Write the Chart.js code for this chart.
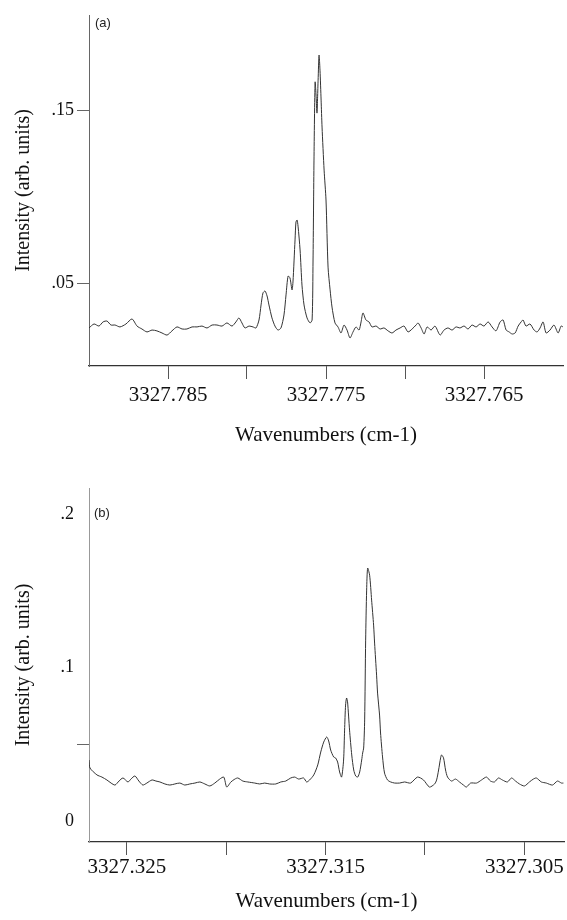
<!DOCTYPE html>
<html>
<head>
<meta charset="utf-8">
<script src="https://cdn.jsdelivr.net/npm/chart.js@4.4.1/dist/chart.umd.min.js"></script>
<style>
  body { margin: 0; background: #fff; }
  #wrap { position: relative; width: 567px; height: 920px; }
  canvas { position: absolute; left: 0; }
  .tag { position: absolute; font: 13px "Liberation Sans", Arial, sans-serif; color: #222; line-height: 16px; }
</style>
</head>
<body>
<div id="wrap">
  <canvas id="specA" width="567" height="460" style="top:0"></canvas>
  <canvas id="specB" width="567" height="460" style="top:460px"></canvas>
  <div class="tag" style="left:95px; top:15px">(a)</div>
  <div class="tag" style="left:94px; top:505px">(b)</div>
</div>
<script>
// panel (a): wavenumber (cm-1) and intensity
const WAVE_A = [
  3327.79000, 3327.78968, 3327.78937, 3327.78911, 3327.78886, 3327.78861, 3327.78835, 3327.78804, 3327.78766, 3327.78728,
  3327.78696, 3327.78665, 3327.78633, 3327.78601, 3327.78570, 3327.78538, 3327.78506, 3327.78475, 3327.78443, 3327.78411,
  3327.78380, 3327.78348, 3327.78316, 3327.78285, 3327.78253, 3327.78221, 3327.78190, 3327.78158, 3327.78127, 3327.78095,
  3327.78070, 3327.78051, 3327.78032, 3327.78013, 3327.77987, 3327.77962, 3327.77943, 3327.77924, 3327.77911, 3327.77899,
  3327.77886, 3327.77873, 3327.77861, 3327.77842, 3327.77823, 3327.77804, 3327.77785, 3327.77766, 3327.77753, 3327.77740,
  3327.77728, 3327.77715, 3327.77709, 3327.77696, 3327.77690, 3327.77683, 3327.77677, 3327.77664, 3327.77652, 3327.77639,
  3327.77620, 3327.77601, 3327.77588, 3327.77582, 3327.77576, 3327.77569, 3327.77563, 3327.77557, 3327.77550, 3327.77544,
  3327.77538, 3327.77531, 3327.77525, 3327.77512, 3327.77500, 3327.77487, 3327.77474, 3327.77462, 3327.77443, 3327.77424,
  3327.77405, 3327.77386, 3327.77367, 3327.77348, 3327.77329, 3327.77310, 3327.77291, 3327.77278, 3327.77266, 3327.77247,
  3327.77228, 3327.77209, 3327.77183, 3327.77158, 3327.77133, 3327.77107, 3327.77082, 3327.77057, 3327.77031, 3327.77006,
  3327.76981, 3327.76955, 3327.76930, 3327.76917, 3327.76898, 3327.76879, 3327.76860, 3327.76835, 3327.76810, 3327.76778,
  3327.76753, 3327.76728, 3327.76702, 3327.76677, 3327.76652, 3327.76626, 3327.76601, 3327.76576, 3327.76550, 3327.76525,
  3327.76500, 3327.76474, 3327.76449, 3327.76424, 3327.76398, 3327.76379, 3327.76360, 3327.76341, 3327.76322, 3327.76303,
  3327.76284, 3327.76265, 3327.76253, 3327.76234, 3327.76209, 3327.76183, 3327.76164, 3327.76145, 3327.76126, 3327.76107,
  3327.76082, 3327.76057, 3327.76031, 3327.76012, 3327.76000
];
const INT_A = [
  .0240, .0263, .0251, .0275, .0280, .0257, .0257, .0246, .0263, .0292,
  .0251, .0234, .0217, .0228, .0223, .0211, .0199, .0223, .0246, .0234,
  .0234, .0246, .0246, .0251, .0240, .0257, .0257, .0251, .0269, .0251,
  .0275, .0298, .0269, .0240, .0251, .0246, .0240, .0286, .0373, .0442,
  .0454, .0425, .0373, .0298, .0251, .0228, .0240, .0315, .0431, .0540,
  .0529, .0460, .0506, .0749, .0853, .0864, .0829, .0691, .0488, .0373,
  .0298, .0269, .0286, .0633, .1211, .1662, .1587, .1483, .1673, .1818,
  .1731, .1558, .1402, .1153, .0980, .0592, .0460, .0361, .0269, .0246,
  .0211, .0257, .0228, .0182, .0217, .0246, .0228, .0275, .0327, .0286,
  .0275, .0246, .0251, .0234, .0240, .0223, .0211, .0228, .0240, .0251,
  .0217, .0234, .0257, .0269, .0240, .0205, .0246, .0228, .0251, .0199,
  .0228, .0240, .0228, .0246, .0240, .0251, .0234, .0257, .0246, .0263,
  .0251, .0275, .0246, .0223, .0275, .0286, .0228, .0217, .0205, .0211,
  .0251, .0275, .0286, .0251, .0263, .0228, .0217, .0240, .0275, .0211,
  .0228, .0257, .0211, .0251, .0246
];

// panel (b)
const WAVE_B = [
  3327.32690, 3327.32685, 3327.32650, 3327.32625, 3327.32600, 3327.32579, 3327.32559, 3327.32539, 3327.32519, 3327.32494,
  3327.32479, 3327.32459, 3327.32439, 3327.32419, 3327.32399, 3327.32373, 3327.32353, 3327.32333, 3327.32308, 3327.32283,
  3327.32258, 3327.32233, 3327.32208, 3327.32183, 3327.32157, 3327.32132, 3327.32107, 3327.32082, 3327.32057, 3327.32032,
  3327.32012, 3327.31997, 3327.31976, 3327.31956, 3327.31941, 3327.31916, 3327.31891, 3327.31856, 3327.31831, 3327.31806,
  3327.31781, 3327.31750, 3327.31725, 3327.31700, 3327.31675, 3327.31655, 3327.31635, 3327.31610, 3327.31595, 3327.31580,
  3327.31559, 3327.31539, 3327.31524, 3327.31509, 3327.31494, 3327.31484, 3327.31474, 3327.31459, 3327.31449, 3327.31439,
  3327.31429, 3327.31419, 3327.31409, 3327.31404, 3327.31399, 3327.31394, 3327.31389, 3327.31379, 3327.31368, 3327.31358,
  3327.31348, 3327.31338, 3327.31328, 3327.31318, 3327.31313, 3327.31308, 3327.31303, 3327.31298, 3327.31293, 3327.31288,
  3327.31278, 3327.31268, 3327.31258, 3327.31253, 3327.31243, 3327.31238, 3327.31228, 3327.31223, 3327.31213, 3327.31203,
  3327.31188, 3327.31172, 3327.31152, 3327.31127, 3327.31102, 3327.31072, 3327.31037, 3327.31007, 3327.30977, 3327.30951,
  3327.30941, 3327.30931, 3327.30921, 3327.30916, 3327.30906, 3327.30896, 3327.30886, 3327.30866, 3327.30846, 3327.30826,
  3327.30806, 3327.30791, 3327.30770, 3327.30740, 3327.30715, 3327.30690, 3327.30670, 3327.30650, 3327.30630, 3327.30610,
  3327.30585, 3327.30564, 3327.30544, 3327.30524, 3327.30499, 3327.30474, 3327.30454, 3327.30439, 3327.30414, 3327.30389,
  3327.30358, 3327.30333, 3327.30313, 3327.30303
];
const INT_B = [
  .0397, .0345, .0300, .0286, .0267, .0247, .0234, .0260, .0280, .0254,
  .0273, .0293, .0260, .0234, .0247, .0267, .0260, .0254, .0241, .0234,
  .0241, .0247, .0234, .0241, .0247, .0254, .0241, .0228, .0247, .0273,
  .0286, .0221, .0254, .0273, .0280, .0260, .0254, .0247, .0241, .0247,
  .0241, .0241, .0254, .0260, .0280, .0286, .0273, .0280, .0254, .0267,
  .0300, .0365, .0449, .0514, .0547, .0521, .0462, .0417, .0410, .0384,
  .0319, .0286, .0397, .0592, .0755, .0801, .0775, .0592, .0430, .0332,
  .0293, .0286, .0319, .0397, .0443, .0475, .0658, .1178, .1504, .1647,
  .1601, .1439, .1276, .1159, .0950, .0833, .0690, .0573, .0417, .0312,
  .0267, .0254, .0247, .0247, .0254, .0247, .0286, .0267, .0221, .0241,
  .0267, .0332, .0410, .0430, .0410, .0332, .0286, .0260, .0273, .0254,
  .0234, .0221, .0247, .0247, .0267, .0286, .0260, .0254, .0280, .0267,
  .0254, .0280, .0260, .0241, .0228, .0254, .0273, .0280, .0254, .0247,
  .0234, .0260, .0247, .0247
];

const X_TICKS_A = [3327.785, 3327.780, 3327.775, 3327.770, 3327.765];
const X_LABELS_A = ['3327.785', '', '3327.775', '', '3327.765'];
const Y_TICKS_A = [0.05, 0.15];
const Y_LABELS_A = ['.05', '.15'];
const Y_MARKS_A = [true, true];

const X_TICKS_B = [3327.325, 3327.320, 3327.315, 3327.310, 3327.305];
const X_LABELS_B = ['3327.325', '', '3327.315', '', '3327.305'];
const Y_TICKS_B = [0, 0.05, 0.1, 0.2];
const Y_LABELS_B = ['0', '', '.1', '.2'];
const Y_MARKS_B = [false, true, false, false];

const serif = '"Liberation Serif", "Times New Roman", serif';

function dibujar(id, xs, ys, cfg) {
  const puntos = xs.map((x, i) => ({ x: x, y: ys[i] }));
  return new Chart(document.getElementById(id), {
    type: 'line',
    data: {
      datasets: [{
        data: puntos,
        borderColor: '#333',
        borderWidth: 1,
        pointRadius: 0,
        tension: 0.25,
        fill: false
      }]
    },
    options: {
      responsive: false,
      animation: false,
      devicePixelRatio: 1,
      layout: { padding: { top: cfg.top, right: cfg.right, left: 0, bottom: 0 } },
      plugins: { legend: { display: false }, tooltip: { enabled: false } },
      scales: {
        x: {
          type: 'linear',
          reverse: true,
          min: cfg.xMin,
          max: cfg.xMax,
          afterFit: s => { s.height = cfg.xHeight; },
          afterBuildTicks: s => { s.ticks = cfg.xTicks.map(v => ({ value: v })); },
          grid: { drawOnChartArea: false, tickLength: 13, tickColor: '#555' },
          border: { color: '#333', width: 1.2 },
          ticks: {
            padding: cfg.xTickPad,
            color: '#111',
            autoSkip: false,
            maxRotation: 0,
            font: { family: serif, size: 21 },
            callback: (v, i) => cfg.xLabels[i]
          },
          title: {
            display: true,
            text: 'Wavenumbers (cm-1)',
            color: '#111',
            font: { family: serif, size: 21 },
            padding: { top: 0, bottom: cfg.xTitlePad }
          }
        },
        y: {
          min: cfg.yMin,
          max: cfg.yMax,
          afterFit: s => { s.width = 89; },
          afterBuildTicks: s => { s.ticks = cfg.yTicks.map(v => ({ value: v })); },
          grid: {
            drawOnChartArea: false,
            tickLength: 12,
            tickColor: ctx => cfg.yMarks[ctx.index] ? '#666' : 'rgba(0,0,0,0)'
          },
          border: { color: cfg.yBorder, width: 1, dash: cfg.yDash },
          ticks: {
            padding: 3,
            color: '#111',
            font: { family: serif, size: 18 },
            callback: (v, i) => cfg.yLabels[i]
          },
          title: {
            display: true,
            text: 'Intensity (arb. units)',
            color: '#111',
            font: { family: serif, size: 20 },
            padding: { top: 12, bottom: 0 }
          }
        }
      }
    }
  });
}

dibujar('specA', WAVE_A, INT_A, {
  top: 15, right: 4,
  xMin: 3327.760, xMax: 3327.790, yMin: 0.002, yMax: 0.205,
  xHeight: 94, xTickPad: 4, xTitlePad: 12,
  xTicks: X_TICKS_A, xLabels: X_LABELS_A,
  yTicks: Y_TICKS_A, yLabels: Y_LABELS_A, yMarks: Y_MARKS_A,
  yBorder: '#666', yDash: []
});

dibujar('specB', WAVE_B, INT_B, {
  top: 28, right: 3,
  xMin: 3327.303, xMax: 3327.3269, yMin: -0.0137, yMax: 0.2169,
  xHeight: 78, xTickPad: 0, xTitlePad: 6,
  xTicks: X_TICKS_B, xLabels: X_LABELS_B,
  yTicks: Y_TICKS_B, yLabels: Y_LABELS_B, yMarks: Y_MARKS_B,
  yBorder: '#999', yDash: [3, 3]
});
</script>
</body>
</html>
